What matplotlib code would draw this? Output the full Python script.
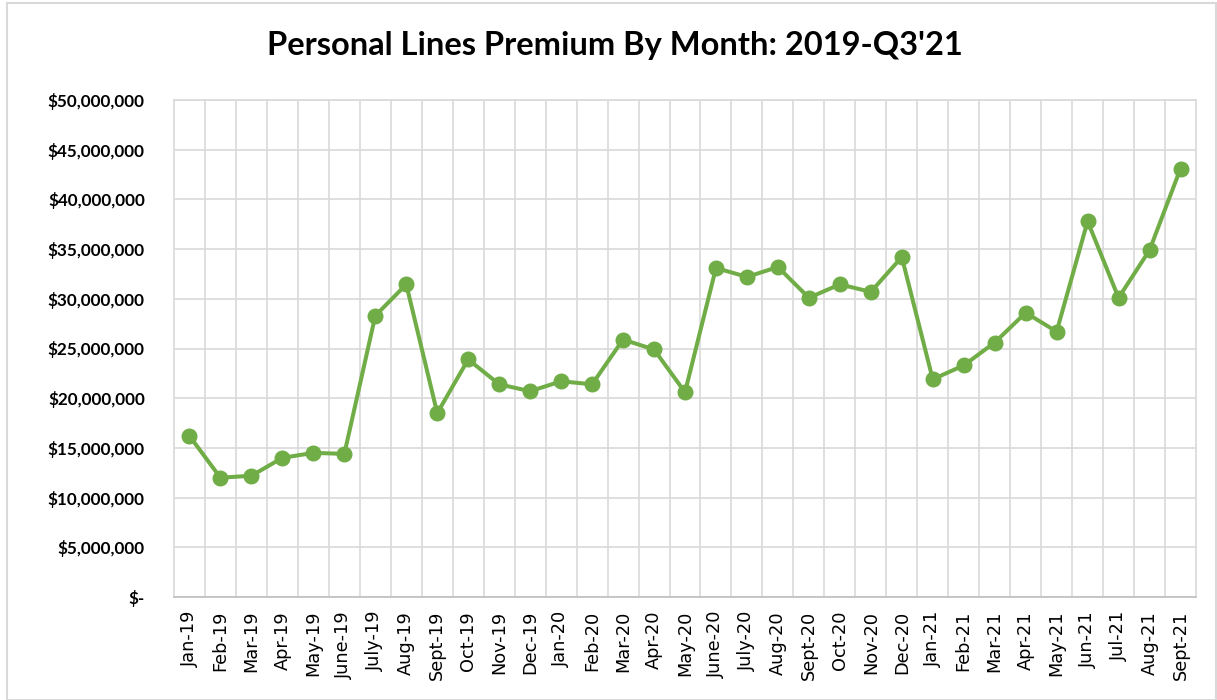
import matplotlib
matplotlib.use("Agg")
import matplotlib.pyplot as plt
from matplotlib.ticker import FuncFormatter, MultipleLocator
from matplotlib.transforms import ScaledTranslation
from matplotlib.patches import Rectangle

months = ["Jan-19", "Feb-19", "Mar-19", "Apr-19", "May-19", "June-19", "July-19", "Aug-19",
          "Sept-19", "Oct-19", "Nov-19", "Dec-19", "Jan-20", "Feb-20", "Mar-20", "Apr-20",
          "May-20", "June-20", "July-20", "Aug-20", "Sept-20", "Oct-20", "Nov-20", "Dec-20",
          "Jan-21", "Feb-21", "Mar-21", "Apr-21", "May-21", "Jun-21", "Jul-21", "Aug-21", "Sept-21"]
premium = [16.2, 12.0, 12.2, 14.0, 14.5, 14.4, 28.3, 31.45,
           18.5, 23.9, 21.4, 20.7, 21.7, 21.4, 25.9, 24.9,
           20.6, 33.1, 32.2, 33.2, 30.1, 31.45, 30.7, 34.2,
           21.9, 23.3, 25.6, 28.6, 26.7, 37.8, 30.1, 34.9, 43.1]
premium = [v * 1_000_000 for v in premium]
title = "Personal Lines Premium By Month: 2019-Q3'21"

W, H = 1217, 700
fig = plt.figure(figsize=(W / 100, H / 100), dpi=100)
fig.patches.append(Rectangle((7 / W, 0), (W - 8) / W, (H - 3) / H, transform=fig.transFigure,
                             fill=False, edgecolor="#D9D9D9", linewidth=1.5))

ax = fig.add_axes([174 / W, (H - 597) / H, (1196 - 174) / W, (597 - 100) / H])
x = list(range(len(months)))
ax.plot(x, premium, color="#70AD47", linewidth=2.9, marker="o", markersize=10.5,
        solid_capstyle="round", zorder=3)

ax.set_xlim(-0.5, len(months) - 0.5)
ax.set_ylim(0, 50_000_000)
ax.yaxis.set_major_locator(MultipleLocator(5_000_000))

def fmt(v, pos):
    if v == 0:
        return "$-"
    return "${:,.0f}".format(v)
ax.yaxis.set_major_formatter(FuncFormatter(fmt))

ax.set_xticks(x)
ax.set_xticklabels(months, rotation=90, fontsize=12.8, family="DejaVu Sans", color="#000000")
ax.set_xticks([i + 0.5 for i in x[:-1]], minor=True)
ax.grid(True, which="minor", axis="x", color="#D9D9D9", linewidth=1.2)
ax.grid(True, which="major", axis="y", color="#D9D9D9", linewidth=1.2)
ax.set_axisbelow(True)
ax.tick_params(axis="x", which="both", length=0, pad=10)
ax.tick_params(axis="y", length=0, pad=21)
for lab in ax.get_yticklabels():
    lab.set_fontfamily("Lato")
    lab.set_fontweight("bold")
    lab.set_fontsize(12.3)
ylabs = ax.get_yticklabels()
ylabs[0].set_transform(ylabs[0].get_transform() + ScaledTranslation(-25 / 100, 0, fig.dpi_scale_trans))

for side, sp in ax.spines.items():
    sp.set_color("#D9D9D9")
    sp.set_linewidth(1.2)
ax.spines["bottom"].set_color("#BFBFBF")

fig.text(615 / W, 1 - 46 / H, title, ha="center", va="center", fontsize=23.5,
         fontfamily="Lato", fontweight="bold")

fig.savefig("out.png", dpi=100)
